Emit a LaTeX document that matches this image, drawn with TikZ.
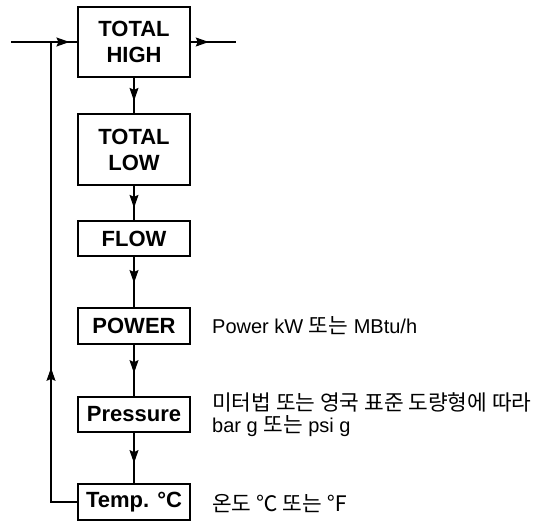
\documentclass[tikz,border=0pt]{standalone}
\usepackage{fontspec}
\setmainfont{Liberation Sans}
\newfontfamily\kr[Scale=1.07]{Noto Sans CJK KR}
\usetikzlibrary{arrows.meta,decorations.markings}

\begin{document}
\begin{tikzpicture}[x=1pt, y=-1pt, >={Stealth[length=13pt, width=9pt, inset=2pt]},
    box/.style={draw, line width=1.2pt, minimum width=112pt, inner sep=0pt, align=center, font=\fontsize{22}{26}\selectfont\bfseries},
    note/.style={anchor=west, inner sep=0pt, align=left, font=\fontsize{20}{22}\selectfont},
    link/.style={line width=1.1pt},
    arrowat/.style={postaction={decorate}, decoration={markings, mark=at position #1 with {\arrow{>}}}},
    arrowat/.default=0.6]
    \useasboundingbox (0,0) rectangle (538,521);
    % measuring boxes
    \node[box, minimum height=70pt] (high) at (134,42) {TOTAL\\HIGH};
    \node[box, minimum height=71pt] (low) at (134,149.5) {TOTAL\\LOW};
    \node[box, minimum height=35pt] (flow) at (134,238.5) {FLOW};
    \node[box, minimum height=36pt] (power) at (134,326) {POWER};
    \node[box, minimum height=35pt] (pres) at (134,414.5) {Pressure};
    \node[box, minimum height=36pt] (temp) at (134,502) {Temp. °C};
    % notes
    \node[note] (powernote) at (212,326) {Power kW {\kr 또는} MBtu/h};
    \node[note] (presnote) at (212,415) {{\kr 미터법 또는 영국 표준 도량형에 따라}\\bar g {\kr 또는} psi g};
    \node[note] (tempnote) at (212,504) {\kr 온도 ℃ 또는 ℉};
    % in, out and feedback
    \coordinate (in) at (11,42);
    \coordinate (out) at (236,42);
    \coordinate (fb) at (51,42);
    \draw[link, arrowat=0.88] (in) -- (high.west);
    \draw[link, arrowat=0.4] (high.east) -- (out);
    \draw[link, arrowat=0.33] (temp.west) -| (fb);
    % chain
    \draw[link, arrowat=0.65] (high) -- (low);
    \draw[link, arrowat=0.64] (low) -- (flow);
    \draw[link, arrowat=0.52] (flow) -- (power);
    \draw[link, arrowat=0.55] (power) -- (pres);
    \draw[link, arrowat] (pres) -- (temp);
\end{tikzpicture}
\end{document}
